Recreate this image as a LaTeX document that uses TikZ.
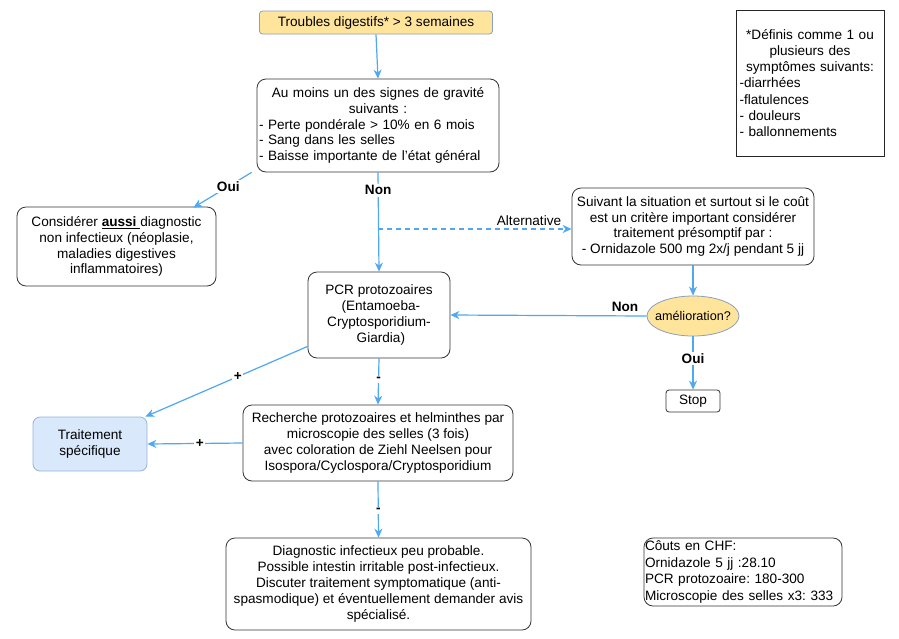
\documentclass[tikz,border=0pt]{standalone}
\usepackage{fontspec}
\setmainfont{Liberation Sans}
\usetikzlibrary{arrows.meta,shapes.geometric}
\definecolor{arr}{RGB}{79,168,240}
\definecolor{yel}{RGB}{255,228,156}
\definecolor{yelline}{RGB}{140,160,185}
\definecolor{bluefill}{RGB}{218,232,252}
\definecolor{blueline}{RGB}{150,180,220}
\frenchspacing
\begin{document}
\begin{tikzpicture}[x=1pt,y=-1pt,
  every node/.style={font=\fontsize{13.6}{15.8}\selectfont},
  box/.style={draw=black!80, rounded corners=9pt, line width=0.8pt, inner sep=1pt, align=center},
  conn/.style={draw=arr, line width=1.2pt, -{Stealth[length=9pt,width=8pt]}},
  lbl/.style={font=\fontsize{13.6}{15}\selectfont\bfseries, fill=white, inner sep=1.5pt},
  lbltop/.style={font=\fontsize{13.6}{15}\selectfont\bfseries, inner sep=1.5pt}]
\useasboundingbox[fill=white] (0,0) rectangle (899,638);

\node[box, fill=yel, draw=yelline, rounded corners=3pt, minimum width=233, minimum height=23] (t) at (376,22.5) {Troubles digestifs* > 3 semaines};

\node[box, minimum width=242, minimum height=93, text width=238, align=left] (b2) at (378,125.5)
  {\makebox[\linewidth][c]{Au moins un des signes de gravité}\\
   \makebox[\linewidth][c]{suivants :}\\
   - Perte pondérale > 10\% en 6 mois\\
   - Sang dans les selles\\
   - Baisse importante de l'état général};

\node[box, minimum width=199, minimum height=79] (b3) at (116.5,246.5)
  {Considérer \underline{\textbf{aussi}\ }diagnostic\\ non infectieux (néoplasie,\\ maladies digestives\\ inflammatoires)};

\node[box, minimum width=242, minimum height=77] (alt) at (693,226.5)
  {Suivant la situation et surtout si le coût\\ est un critère important considérer\\ traitement présomptif par :\\ - Ornidazole 500 mg 2x/j pendant 5 jj};

\node[ellipse, draw=yelline, fill=yel, line width=0.8pt, minimum width=92, minimum height=40, inner sep=0pt, font=\fontsize{12.6}{14}\selectfont] (ell) at (693,316) {\makebox[0pt][c]{amélioration?}};

\node[box, rounded corners=3pt, minimum width=54, minimum height=22] (stop) at (693,401) {Stop};

\node[box, minimum width=142, minimum height=86] (pcr) at (379,315)
  {PCR protozoaires\\ \ (Entamoeba-\\ Cryptosporidium-\\ \ Giardia)};

\node[box, minimum width=270, minimum height=76] (rech) at (378,443)
  {Recherche protozoaires et helminthes par\\ microscopie des selles (3 fois)\\ avec coloration de Ziehl Neelsen pour\\ Isospora/Cyclospora/Cryptosporidium};

\node[box, fill=bluefill, draw=blueline, rounded corners=7pt, minimum width=114, minimum height=54] (tr) at (90,444)
  {Traitement\\ spécifique};

\node[box, minimum width=305, minimum height=92] (bot) at (378.5,584)
  {Diagnostic infectieux peu probable.\\ Possible intestin irritable post-infectieux.\\ Discuter traitement symptomatique (anti-\\ spasmodique) et éventuellement demander avis\\ spécialisé.};

\node[box, align=left, minimum width=198, minimum height=68, text width=196, inner sep=1pt, font=\fontsize{13.6}{16.5}\selectfont] (cost) at (743,572)
  {Côuts en CHF:\\ Ornidazole 5 jj :28.10\\ PCR protozoaire: 180-300\\ Microscopie des selles x3: 333};

\node[draw=black!85, line width=0.8pt, rounded corners=0pt, minimum width=148, minimum height=146, text width=141, inner xsep=3.5pt, inner ysep=2pt, align=left, font=\fontsize{13.6}{16.3}\selectfont] (note) at (810,83)
  {\makebox[\linewidth][c]{*Définis comme 1 ou}\\
   \makebox[\linewidth][c]{plusieurs des}\\
   \makebox[\linewidth][c]{symptômes suivants:}\\
   -diarrhées\\ -flatulences\\ - douleurs\\ - ballonnements};

% connectors
\draw[conn] (t.south) -- (b2.north);
\draw[conn] ([xshift=-5pt]b2.south west) -- node[lbl, pos=0.4]{Oui} ([xshift=-23pt,yshift=-1pt]b3.north east);
\draw[conn] (b2.south) -- node[lbl, pos=0.18]{Non} (pcr.north);
\coordinate (altstart) at (378,229);
\draw[conn, dashed, dash pattern=on 5pt off 4pt] (altstart) -- node[pos=0.78, above, inner sep=3pt]{Alternative} (alt.west |- altstart);
\draw[conn] (alt.south) -- (ell.north);
\draw[conn] (ell.west) -- node[lbltop, pos=0.11, above, inner sep=4pt]{Non} (pcr.east);
\draw[conn] (ell.south) -- node[lbl, pos=0.42]{Oui} (stop.north);
\draw[conn] ([yshift=12pt]pcr.south west) -- node[lbl, pos=0.43]{+} ([xshift=-2pt]tr.north east);
\draw[conn] (pcr.south) -- node[lbl, pos=0.45]{-} (rech.north);
\draw[conn] (rech.west) -- node[lbl, pos=0.45]{+} (tr.east);
\draw[conn] (rech.south) -- node[lbl, pos=0.52]{-} (bot.north);
\end{tikzpicture}
\end{document}
